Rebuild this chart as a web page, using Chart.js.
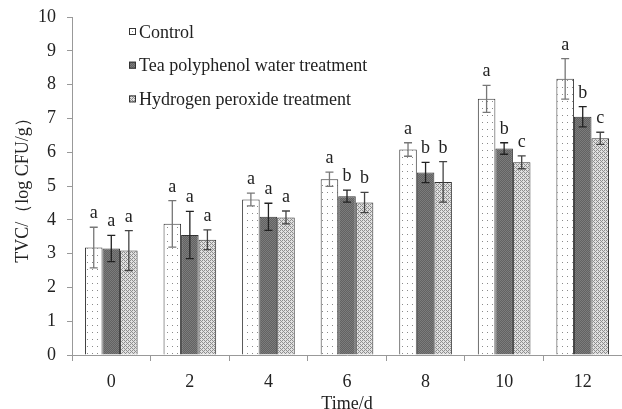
<!DOCTYPE html>
<html>
<head>
<meta charset="utf-8">
<script src="https://cdn.jsdelivr.net/npm/chart.js@4/dist/chart.umd.min.js"></script>
<style>
  html, body { margin: 0; padding: 0; background: #fff; }
  #wrap { width: 622px; height: 409px; }
</style>
</head>
<body>
<div id="wrap"><canvas id="tvc"></canvas></div>
<script>
// Datos
const days = ['0', '2', '4', '6', '8', '10', '12'];
const seriesNames = ['Control', 'Tea polyphenol water treatment', 'Hydrogen peroxide treatment'];

const controlMean = [3.18, 3.88, 4.60, 5.20, 6.08, 7.58, 8.17];
const teaMean     = [3.15, 3.55, 4.09, 4.70, 5.40, 6.11, 7.05];
const h2o2Mean    = [3.09, 3.41, 4.07, 4.51, 5.12, 5.70, 6.41];

const controlErr = [0.60, 0.69, 0.19, 0.21, 0.20, 0.40, 0.60];
const teaErr     = [0.39, 0.70, 0.40, 0.18, 0.30, 0.17, 0.30];
const h2o2Err    = [0.59, 0.29, 0.19, 0.30, 0.60, 0.19, 0.18];

const controlSig = ['a', 'a', 'a', 'a', 'a', 'a', 'a'];
const teaSig     = ['a', 'a', 'a', 'b', 'b', 'b', 'b'];
const h2o2Sig    = ['a', 'a', 'a', 'b', 'b', 'c', 'c'];

const yTicks = [0, 1, 2, 3, 4, 5, 6, 7, 8, 9, 10];

const serif = "'Times New Roman', 'Liberation Serif', serif";

/**
 * Patrones de relleno tipo Excel
 */
function makePattern(kind) {
    const c = document.createElement('canvas');
    const g = c.getContext('2d');
    if (kind === 'dots') {
        c.width = 5; c.height = 7;
        g.fillStyle = '#ffffff';
        g.fillRect(0, 0, 5, 7);
        g.fillStyle = '#8a8a8a';
        g.fillRect(2, 3, 1, 1);
    } else if (kind === 'dark') {
        c.width = 2; c.height = 2;
        g.fillStyle = '#626262';
        g.fillRect(0, 0, 2, 2);
        g.fillStyle = '#7c7c7c';
        g.fillRect(0, 0, 1, 1);
        g.fillRect(1, 1, 1, 1);
    } else {
        c.width = 4; c.height = 4;
        g.fillStyle = '#e0e0e0';
        g.fillRect(0, 0, 4, 4);
        g.fillStyle = '#8e8e8e';
        g.fillRect(0, 0, 1, 1);
        g.fillRect(1, 1, 1, 1);
        g.fillRect(2, 2, 1, 1);
        g.fillRect(3, 3, 1, 1);
        g.fillRect(2, 0, 1, 1);
        g.fillRect(0, 2, 1, 1);
    }
    return g.createPattern(c, 'repeat');
}

const fills = [makePattern('dots'), makePattern('dark'), makePattern('hatch')];
const errColors = ['#777777', '#222222', '#444444'];
const errs = [controlErr, teaErr, h2o2Err];
const sigs = [controlSig, teaSig, h2o2Sig];

// Barras de error y letras de significancia
const errorBarPlugin = {
    id: 'errorBars',
    afterDatasetsDraw(chart) {
        const ctx = chart.ctx;
        const y = chart.scales.y;
        ctx.save();
        chart.data.datasets.forEach((ds, i) => {
            const meta = chart.getDatasetMeta(i);
            meta.data.forEach((bar, j) => {
                const v = ds.data[j];
                const e = errs[i][j];
                const top = y.getPixelForValue(v + e);
                const bot = y.getPixelForValue(v - e);
                ctx.strokeStyle = errColors[i];
                ctx.lineWidth = 1.3;
                ctx.beginPath();
                ctx.moveTo(bar.x, top);
                ctx.lineTo(bar.x, bot);
                ctx.moveTo(bar.x - 4, top);
                ctx.lineTo(bar.x + 4, top);
                ctx.moveTo(bar.x - 4, bot);
                ctx.lineTo(bar.x + 4, bot);
                ctx.stroke();

                ctx.fillStyle = '#222';
                ctx.font = '18px ' + serif;
                ctx.textAlign = 'center';
                ctx.textBaseline = 'alphabetic';
                ctx.fillText(sigs[i][j], bar.x, top - 9);
            });
        });
        ctx.restore();
    }
};

// Leyenda dentro del area del grafico
const insideLegend = {
    id: 'insideLegend',
    afterDraw(chart) {
        const ctx = chart.ctx;
        ctx.save();
        ctx.font = '18px ' + serif;
        ctx.textBaseline = 'middle';
        ctx.textAlign = 'left';
        seriesNames.forEach((name, i) => {
            const cy = 32 + i * 33.7;
            ctx.fillStyle = fills[i];
            ctx.fillRect(129, cy - 4, 7, 7);
            ctx.strokeStyle = '#333';
            ctx.lineWidth = 1;
            ctx.strokeRect(129.5, cy - 3.5, 6, 6);
            ctx.fillStyle = '#222';
            ctx.fillText(name, 139, cy + 1);
        });
        ctx.restore();
    }
};

new Chart(document.getElementById('tvc'), {
    type: 'bar',
    data: {
        labels: days,
        datasets: [
            { label: seriesNames[0], data: controlMean, backgroundColor: fills[0] },
            { label: seriesNames[1], data: teaMean, backgroundColor: fills[1] },
            { label: seriesNames[2], data: h2o2Mean, backgroundColor: fills[2] }
        ].map(d => ({
            ...d,
            borderColor: '#333',
            borderWidth: 1,
            categoryPercentage: 0.67,
            barPercentage: 1.0
        }))
    },
    options: {
        responsive: true,
        maintainAspectRatio: false,
        animation: false,
        layout: { padding: { top: 17, right: -3, left: 0, bottom: 0 } },
        plugins: {
            legend: { display: false },
            tooltip: { enabled: false }
        },
        scales: {
            x: {
                grid: {
                    drawOnChartArea: false,
                    tickLength: 6,
                    color: '#999'
                },
                border: { color: '#999', width: 1 },
                ticks: {
                    color: '#222',
                    padding: 10,
                    font: { family: serif, size: 18 }
                },
                title: {
                    display: true,
                    text: 'Time/d',
                    color: '#222',
                    padding: { top: 0, bottom: -6 },
                    font: { family: serif, size: 18 }
                },
                afterFit: s => { s.height = 54; s.paddingLeft = 0; s.paddingRight = 0; }
            },
            y: {
                min: 0,
                max: 10,
                grid: {
                    drawOnChartArea: false,
                    tickLength: 5,
                    color: '#999'
                },
                border: { color: '#999', width: 1 },
                afterBuildTicks: s => { s.ticks = yTicks.map(v => ({ value: v })); },
                ticks: {
                    color: '#222',
                    padding: 11,
                    font: { family: serif, size: 18 }
                },
                title: {
                    display: true,
                    text: 'TVC/（log CFU/g）',
                    color: '#222',
                    padding: { top: 12, bottom: 0 },
                    font: { family: serif, size: 18 }
                },
                afterFit: s => { s.width = 72; s.paddingTop = 0; s.paddingBottom = 0; }
            }
        }
    },
    plugins: [errorBarPlugin, insideLegend]
});
</script>
</body>
</html>
